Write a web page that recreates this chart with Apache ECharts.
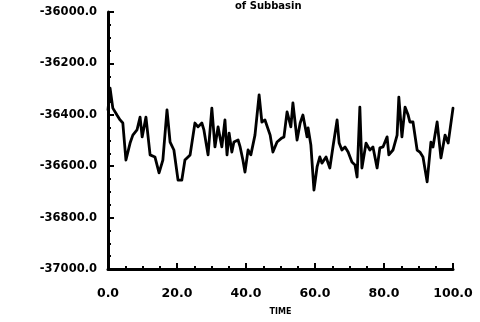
<!DOCTYPE html>
<html>
<head>
<meta charset="utf-8">
<script src="https://cdn.jsdelivr.net/npm/echarts@6/dist/echarts.min.js"></script>
<style>
  html, body { margin: 0; padding: 0; background: #fff; }
  #chart { width: 480px; height: 322px; }
</style>
</head>
<body>
<div id="chart"></div>
<script>
// Time samples and the subbasin storage values recorded at each
const time = [
  0.0, 0.6, 1.4, 2.6, 3.5, 4.3, 5.2, 6.4, 7.2, 8.4, 9.3, 9.9, 11.0, 12.2, 13.6, 14.8,
  15.9, 17.1, 18.0, 19.1, 20.3, 21.4, 22.3, 23.8, 25.2, 26.1, 27.2, 27.8, 29.0, 30.1,
  31.0, 31.9, 33.0, 33.9, 34.5, 35.1, 35.9, 36.5, 37.7, 38.3, 39.1, 39.7, 40.6, 41.4,
  42.6, 43.8, 44.6, 45.5, 47.0, 47.8, 49.0, 50.4, 51.0, 51.9, 52.5, 53.0, 53.6, 54.8,
  55.7, 56.5, 57.7, 58.0, 58.8, 59.7, 60.6, 61.4, 62.0, 63.2, 64.3, 65.2, 66.4, 67.0,
  67.8, 68.7, 69.6, 70.7, 71.6, 72.2, 73.0, 73.6, 74.8, 75.9, 76.8, 78.0, 78.8, 79.7,
  80.9, 81.4, 82.6, 83.8, 84.3, 85.2, 86.1, 87.0, 87.5, 88.4, 89.6, 90.4, 91.3, 92.5,
  93.6, 94.2, 95.4, 96.5, 97.7, 98.6, 100.0
];
const storage = [
  -36381, -36296, -36374, -36401, -36420, -36432, -36576, -36510, -36479, -36459, -36409,
  -36486, -36409, -36556, -36564, -36626, -36576, -36381, -36506, -36537, -36654, -36654,
  -36576, -36556, -36432, -36447, -36432, -36459, -36556, -36374, -36525, -36447, -36525,
  -36420, -36556, -36471, -36545, -36506, -36498, -36525, -36576, -36623, -36537, -36556,
  -36479, -36323, -36428, -36420, -36479, -36545, -36506, -36490, -36486, -36389, -36420,
  -36447, -36354, -36498, -36432, -36401, -36486, -36451, -36517, -36693, -36603, -36564,
  -36588, -36564, -36607, -36525, -36420, -36510, -36537, -36525, -36545, -36584, -36595,
  -36642, -36370, -36607, -36510, -36537, -36525, -36607, -36529, -36525, -36486, -36556,
  -36537, -36479, -36331, -36486, -36370, -36401, -36428, -36428, -36537, -36545, -36564,
  -36661, -36506, -36525, -36428, -36568, -36479, -36510, -36374
];
const titleText = 'of Subbasin';
const xName = 'TIME';

const labelFont = {
  color: '#000',
  fontFamily: 'DejaVu Sans',
  fontWeight: 'bold',
  fontSize: 11.5
};

const chart = echarts.init(document.getElementById('chart'), null, { renderer: 'canvas' });
chart.setOption({
  animation: false,
  backgroundColor: '#fff',
  title: {
    text: titleText,
    left: 230,
    top: -4,
    textStyle: { color: '#000', fontFamily: 'DejaVu Sans', fontWeight: 'bold', fontSize: 10 }
  },
  grid: { left: 108, right: 27, top: 12, bottom: 53 },
  xAxis: {
    type: 'value',
    min: 0,
    max: 100,
    interval: 20,
    name: xName,
    nameLocation: 'middle',
    nameGap: 39,
    nameTextStyle: { color: '#000', fontFamily: 'DejaVu Sans', fontWeight: 'bold', fontSize: 8 },
    axisLine: { show: true, onZero: false, lineStyle: { color: '#000', width: 3 } },
    axisTick: { show: true, inside: true, length: 6, lineStyle: { color: '#000', width: 2 } },
    minorTick: { show: true, splitNumber: 4, length: 3, lineStyle: { color: '#000', width: 2 } },
    splitLine: { show: false },
    axisLabel: Object.assign({ margin: 18, formatter: v => v.toFixed(1) }, labelFont, { fontSize: 12.5 })
  },
  yAxis: {
    type: 'value',
    min: -37000,
    max: -36000,
    interval: 200,
    axisLine: { show: true, onZero: false, lineStyle: { color: '#000', width: 3 } },
    axisTick: { show: true, inside: true, length: 6, lineStyle: { color: '#000', width: 2 } },
    minorTick: { show: true, splitNumber: 4, length: 3, lineStyle: { color: '#000', width: 2 } },
    splitLine: { show: false },
    axisLabel: Object.assign({ margin: 11, formatter: v => v.toFixed(1) }, labelFont)
  },
  series: [{
    type: 'line',
    data: time.map((t, i) => [t, storage[i]]),
    symbol: 'none',
    lineStyle: { color: '#000', width: 2.8, join: 'round', cap: 'round' }
  }]
});
</script>
</body>
</html>
